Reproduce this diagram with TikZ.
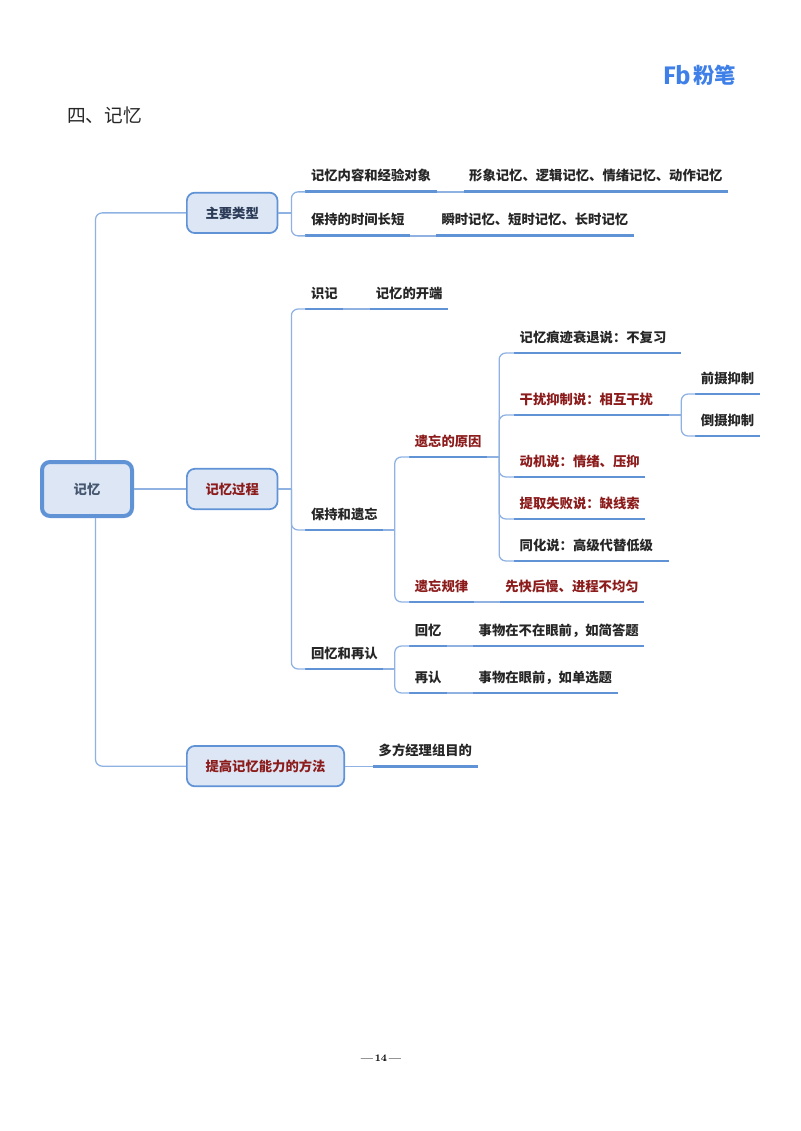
\documentclass[tikz,border=0pt]{standalone}
\usepackage{fontspec}
\newfontfamily\cjk{Noto Sans CJK SC}
\newfontfamily\logofont{Fira Sans}
\usetikzlibrary{positioning}
\definecolor{linkblue}{HTML}{8FB2E3}
\definecolor{ulblue}{HTML}{5F93D6}
\definecolor{boxfill}{HTML}{DCE6F4}
\definecolor{inkred}{HTML}{8C1C1C}
\definecolor{inkdark}{HTML}{262626}
\definecolor{inknavy}{HTML}{2C3B57}
\definecolor{inkroot}{HTML}{46566F}
\definecolor{logoblue}{HTML}{3F80E8}
\tikzset{
	link/.style={draw=linkblue, line width=0.95pt, rounded corners=5pt},
	branch/.style={draw=ulblue, fill=boxfill, line width=1.3pt, rounded corners=6pt, minimum height=30.3pt, inner xsep=14pt, text height=9.5pt, text depth=1pt, font=\cjk\bfseries\fontsize{10}{12}\selectfont, text=inknavy},
	rootbox/.style={branch, line width=3pt, minimum width=67.5pt, minimum height=40.5pt, text=inkroot},
	topic/.style={minimum height=24pt, text height=9pt, text depth=1.5pt, inner xsep=4.2pt, inner ysep=0pt, outer sep=0pt, font=\cjk\bfseries\fontsize{10}{12}\selectfont, text=inkdark,
		append after command={(\tikzlastnode.south west) edge[draw=ulblue, line width=2.2pt] (\tikzlastnode.south east)}},
	hot/.style={topic, text=inkred},
}
\begin{document}
\begin{tikzpicture}[x=0.75pt, y=-0.75pt]
	\useasboundingbox (0,0) rectangle (800,1131);

	\node [anchor=west, font=\cjk\fontsize{14}{16}\selectfont, text=inkdark, inner sep=0pt] (title) at (67,115.5) {四、记忆};
	\node [anchor=east, font=\cjk\bfseries\fontsize{16}{18}\selectfont, text=logoblue, inner sep=0pt] (logoname) at (736,75) {粉笔};
	\node [left=1.5pt of logoname, font=\logofont\bfseries\fontsize{19}{20}\selectfont, text=logoblue, inner sep=0pt] (logomark) {Fb};
	\node [font=\bfseries\fontsize{7.5}{10}\selectfont, inner sep=0pt] (pagenum) at (381,1058) {---\,14\,---};

	\node [rootbox] (memory) at (87,489) {记忆};
	\node [branch, right=39pt of memory, text=inkred] (process) {记忆过程};
	\node [branch, above=175.5pt of process] (kinds) {主要类型};
	\node [branch, below=176.25pt of process.south west, anchor=north west, text=inkred] (method) {提高记忆能力的方法};

	\node [topic, above right=15.75pt and 20.25pt of kinds.east] (content) {记忆内容和经验对象};
	\node [topic, right=20.25pt of content] (contentval) {形象记忆、逻辑记忆、情绪记忆、动作记忆};
	\node [topic, below=9pt of content.south west, anchor=north west] (span) {保持的时间长短};
	\node [topic, right=19.5pt of span] (spanval) {瞬时记忆、短时记忆、长时记忆};

	\node [topic, above right=135pt and 20.25pt of process.east] (encode) {识记};
	\node [topic, right=20.25pt of encode] (encodeval) {记忆的开端};
	\node [topic, below right=6.75pt and 20.25pt of process.east] (hold) {保持和遗忘};
	\node [topic, below=80.25pt of hold.south west, anchor=north west] (recall) {回忆和再认};

	\coordinate [right=8.6pt of hold.south east] (holdfork);
	\node [hot, above right=54.75pt and 10.9pt of holdfork] (cause) {遗忘的原因};
	\node [hot, below right=30pt and 10.9pt of holdfork] (law) {遗忘规律};
	\node [hot, right=19.5pt of law] (lawval) {先快后慢、进程不均匀};

	\coordinate [right=9pt of cause.south east] (causefork);
	\node [topic, above right=78pt and 11.25pt of causefork, text width=117pt, align=left] (trace) {记忆痕迹衰退说：不复习};
	\node [hot, below=22.5pt of trace.south west, anchor=north west, text width=108pt, align=left] (interfere) {干扰抑制说：相互干扰};
	\node [hot, below=22.5pt of interfere.south west, anchor=north west] (motive) {动机说：情绪、压抑};
	\node [hot, below=7.5pt of motive.south west, anchor=north west] (retrieve) {提取失败说：缺线索};
	\node [topic, below=7.5pt of retrieve.south west, anchor=north west, text width=108pt, align=left] (assim) {同化说：高级代替低级};

	\coordinate [right=9pt of interfere.south east] (interfork);
	\node [topic, above right=15.75pt and 10.5pt of interfork] (proact) {前摄抑制};
	\node [topic, below=7.5pt of proact.south west, anchor=north west] (retroact) {倒摄抑制};

	\coordinate [right=8.6pt of recall.south east] (recallfork);
	\node [topic, above right=17.25pt and 10.9pt of recallfork] (remember) {回忆};
	\node [topic, right=19.5pt of remember] (rememberval) {事物在不在眼前，如简答题};
	\node [topic, below=11.25pt of remember.south west, anchor=north west] (recog) {再认};
	\node [topic, right=19.5pt of recog] (recogval) {事物在眼前，如单选题};

	\node [topic, above right=0pt and 21pt of method.east] (methodval) {多方经理组目的};

	\coordinate [right=9.75pt of kinds.east] (kindsfork);
	\coordinate [right=9.75pt of process.east] (processfork);

	\draw [link] (memory.east) -- (process.west);
	\draw [link] (memory.north -| 95.5,0) |- (kinds.west);
	\draw [link] (memory.south -| 95.5,0) |- (method.west);
	\draw [link] (kinds.east) -- (kindsfork);
	\foreach \leaf in {content,span}
		\draw [link] (kindsfork) |- (\leaf.south west);
	\draw [link] (process.east) -- (processfork);
	\foreach \leaf in {encode,hold,recall}
		\draw [link] (processfork) |- (\leaf.south west);
	\draw [link] (hold.south east) -- (holdfork);
	\foreach \leaf in {cause,law}
		\draw [link] (holdfork) |- (\leaf.south west);
	\draw [link] (cause.south east) -- (causefork);
	\foreach \leaf in {trace,interfere,motive,retrieve,assim}
		\draw [link] (causefork) |- (\leaf.south west);
	\draw [link] (interfere.south east) -- (interfork);
	\foreach \leaf in {proact,retroact}
		\draw [link] (interfork) |- (\leaf.south west);
	\draw [link] (recall.south east) -- (recallfork);
	\foreach \leaf in {remember,recog}
		\draw [link] (recallfork) |- (\leaf.south west);
	\draw [link] (method.east) -- (methodval.south west);
	\foreach \from/\to in {content/contentval,span/spanval,encode/encodeval,law/lawval,remember/rememberval,recog/recogval}
		\draw [link] (\from.south east) -- (\to.south west);
\end{tikzpicture}
\end{document}
